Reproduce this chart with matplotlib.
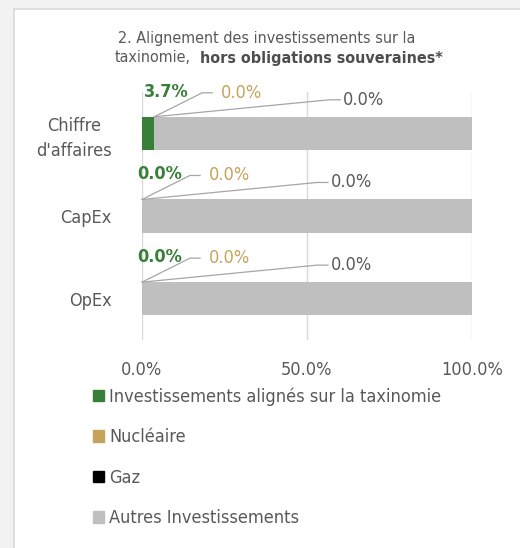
import matplotlib.pyplot as plt
import matplotlib.patches as mpatches
from matplotlib.lines import Line2D

plt.rcParams['font.family'] = ['Liberation Sans Narrow', 'DejaVu Sans']
plt.rcParams['font.stretch'] = 'condensed'

categories = ["Chiffre\nd'affaires", "CapEx", "OpEx"]
aligned = [3.7, 0.0, 0.0]
nuclear = [0.0, 0.0, 0.0]
gas = [0.0, 0.0, 0.0]
others = [96.3, 100.0, 100.0]
series_names = ["Investissements alignés sur la taxinomie", "Nucléaire", "Gaz",
                "Autres Investissements"]
x_ticks = [0, 50, 100]

GREEN = '#38803a'
GOLD = '#c4a45c'
BLACK = '#000000'
GREY = '#bfbfbf'
TXT = '#595959'
FS = 13

W, H = 520, 548
fig = plt.figure(figsize=(W / 100, H / 100), dpi=100, facecolor='#f2f2f2')

# white panel with thin border
fig.patches.append(mpatches.Rectangle((14 / W, -0.05), 1.1, 1 - 9 / H + 0.05,
                                      transform=fig.transFigure, facecolor='white',
                                      edgecolor='#d9d9d9', lw=1.2, zorder=-5))

ax = fig.add_axes([142 / W, 1 - 340 / H, 330 / W, 248 / H])
ax.set_zorder(2)
ax.set_facecolor('none')

y = range(len(categories))
bar_h = 0.4
left = [0.0] * len(categories)
series = [aligned, nuclear, gas, others]
colors = [GREEN, GOLD, BLACK, GREY]
starts = []
for vals, c, name in zip(series, colors, series_names):
    ax.barh(y, vals, left=left, height=bar_h, color=c, label=name, zorder=2)
    starts.append(list(left))
    left = [l + v for l, v in zip(left, vals)]

ax.set_xlim(0, 100)
ax.set_ylim(2.5, -0.5)
ax.set_xticks(x_ticks)
ax.set_xticklabels([f"{t:.1f}%" for t in x_ticks])
ax.set_yticks(list(y))
ax.set_yticklabels(categories, multialignment='center', linespacing=1.5)
ax.tick_params(length=0, labelsize=FS, colors=TXT)
ax.tick_params(axis='x', pad=15)
ax.tick_params(axis='y', pad=22)
for s in ax.spines.values():
    s.set_visible(False)
ax.grid(axis='x', color='#d9d9d9', lw=1, zorder=0)

# data labels with leader lines (pixel offsets from segment centre at bar top)
label_specs = [
    (aligned, GREEN, 'bold', 18, -25, None),
    (nuclear, GOLD, 'normal', 87, -24, (48, 58)),
    (gas, TXT, 'normal', 209, -17, (175, 186)),
]
for k, (vals, c, wt, dx, dy, lead) in enumerate(label_specs):
    for i, v in enumerate(vals):
        xc = starts[k][i] + v / 2
        px, py = ax.transData.transform((xc, i - bar_h / 2))
        ax.annotate(f"{v:.1f}%", (xc, i - bar_h / 2), xytext=(dx, -dy),
                    textcoords='offset pixels', ha='center', va='center',
                    color=c, fontsize=FS, fontweight=wt, annotation_clip=False)
        if lead:
            xs = [px, px + lead[0], px + lead[1]]
            ys = [py, py - dy, py - dy]
            fig.lines.append(Line2D(xs, ys, transform=None, color='#a6a6a6', lw=0.9))

# title
fig.text(267 / W, 1 - 38 / H, "2. Alignement des investissements sur la",
         ha='center', va='center', fontsize=11.5, color=TXT)
fig.text(115 / W, 1 - 58 / H, "taxinomie,", ha='left', va='center',
         fontsize=11.5, color=TXT)
fig.text(200 / W, 1 - 58 / H, "hors obligations souveraines*", ha='left',
         va='center', fontsize=11.5, color='#4d4d4d', fontweight='bold')

handles = [mpatches.Patch(color=c) for c in colors]
fig.legend(handles, series_names, loc='upper left',
           bbox_to_anchor=(86 / W, 1 - 380 / H), frameon=False, fontsize=FS,
           labelcolor=TXT, handlelength=0.6, handleheight=0.6,
           handletextpad=0.3, labelspacing=1.25, borderaxespad=0)

fig.savefig('out.png', dpi=100, facecolor=fig.get_facecolor())
